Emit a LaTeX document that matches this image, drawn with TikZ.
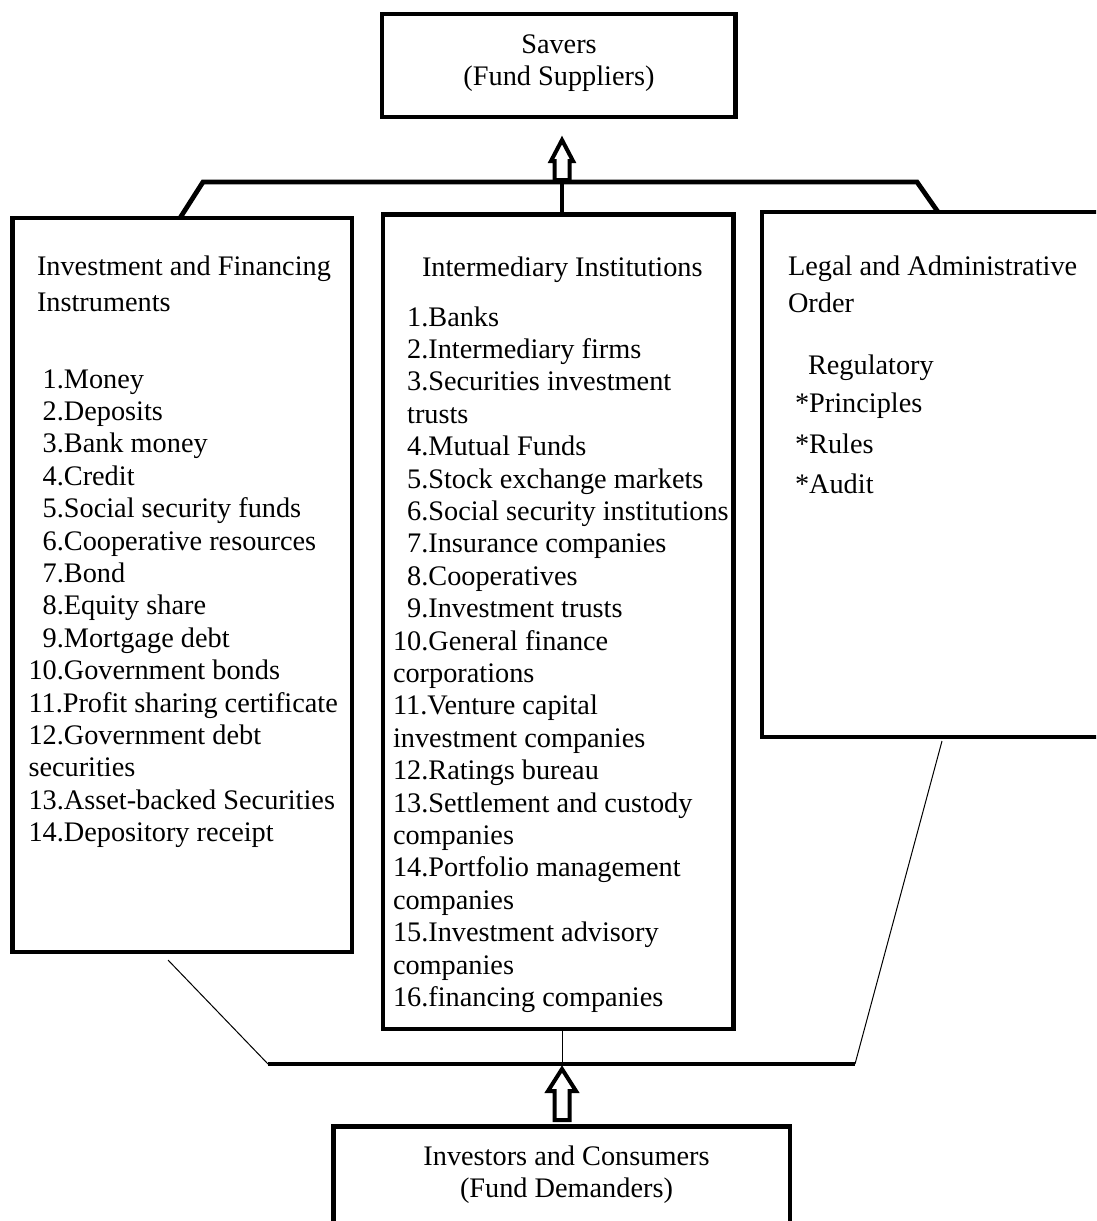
\documentclass[tikz,border=0pt]{standalone}
\usepackage{fontspec}
\setmainfont{Liberation Serif}[Ligatures=NoCommon]
\newcommand\diafont{\fontsize{28.3}{32.4}\selectfont}
\begin{document}
\begin{tikzpicture}[x=1pt,y=-1pt,
  box/.style={draw,line width=4.5pt,inner sep=0pt,outer sep=0pt},
  txt/.style={anchor=base west,inner sep=0pt,outer sep=0pt,font=\diafont},
  ctxt/.style={anchor=base,inner sep=0pt,outer sep=0pt,font=\diafont},
  heavy/.style={line width=4.8pt},
  light/.style={line width=1pt},
  hollow/.style={draw,line width=4pt,fill=white,line join=miter}]
\useasboundingbox (0,0) rectangle (1096,1221);
\clip (0,0) rectangle (1096,1221);

% boxes
\node[box,minimum width=353.5pt,minimum height=103pt] (sbox) at (558.75,65.5) {};
\node[box,minimum width=339.5pt,minimum height=734pt] (lbox) at (182.25,585) {};
\node[box,minimum width=350.5pt,minimum height=814.5pt] (mbox) at (558.25,621.75) {};
\node[box,minimum width=348pt,minimum height=525pt] (rbox) at (936,474.5) {};
\node[box,minimum width=456.5pt,minimum height=113.5pt] (bbox) at (561.75,1183.25) {};

% savers text
\node[ctxt] (stext) at (559,53) {\parbox[t]{340pt}{\centering Savers\\(Fund Suppliers)}};
% investors text
\node[ctxt] (btext) at (566.5,1165) {\parbox[t]{440pt}{\centering Investors and Consumers\\(Fund Demanders)}};

% left box
\node[txt] (ltitle1) at (37,275) {Investment and Financing};
\node[txt] (ltitle2) at (37,311.7) {Instruments};
\node[txt] (llist) at (28.5,388) {\parbox[t]{330pt}{\raggedright
\phantom{0}1.Money\\
\phantom{0}2.Deposits\\
\phantom{0}3.Bank money\\
\phantom{0}4.Credit\\
\phantom{0}5.Social security funds\\
\phantom{0}6.Cooperative resources\\
\phantom{0}7.Bond\\
\phantom{0}8.Equity share\\
\phantom{0}9.Mortgage debt\\
10.Government bonds\\
11.Profit sharing certificate\\
12.Government debt\\
securities\\
13.Asset-backed Securities\\
14.Depository receipt}};

% middle box
\node[txt] (mtitle) at (422,276) {Intermediary Institutions};
\node[txt] (mlist) at (393,326) {\parbox[t]{345pt}{\raggedright
\phantom{0}1.Banks\\
\phantom{0}2.Intermediary firms\\
\phantom{0}3.Securities investment\\
\phantom{0}trusts\\
\phantom{0}4.Mutual Funds\\
\phantom{0}5.Stock exchange markets\\
\phantom{0}6.Social security institutions\\
\phantom{0}7.Insurance companies\\
\phantom{0}8.Cooperatives\\
\phantom{0}9.Investment trusts\\
10.General finance\\
corporations\\
11.Venture capital\\
investment companies\\
12.Ratings bureau\\
13.Settlement and custody\\
companies\\
14.Portfolio management\\
companies\\
15.Investment advisory\\
companies\\
16.financing companies}};

% right box
\node[txt] (rtitle1) at (788,275) {Legal and Administrative};
\node[txt] (rtitle2) at (788,312) {Order};
\node[txt] (rreg) at (808,374) {Regulatory};
\node[txt] (rprin) at (795,412) {*Principles};
\node[txt] (rrules) at (795,453) {*Rules};
\node[txt] (raudit) at (795,493) {*Audit};

% top connector
\coordinate (tl) at (203,182);
\coordinate (tr) at (917,182);
\draw[heavy] (180,0 |- lbox.north) -- (tl) -- (tr) -- (938,0 |- rbox.north);
\draw[line width=4.5pt] (562,0 |- tl) -- (562,0 |- mbox.north);
\draw[hollow] (554.5,180) -- (554.5,161) -- (551,161) -- (562,140) -- (573,161) -- (569.5,161) -- (569.5,180) -- cycle;

% bottom connector
\coordinate (lfoot) at (168,960);
\coordinate (rfoot) at (942,741);
\coordinate (bl) at (268,1064);
\coordinate (br) at (855,1064);
\draw[light] (lfoot) -- (bl);
\draw[light] (br) -- (rfoot);
\draw[light] (562,0 |- mbox.south) -- (562,0 |- bl);
\draw[heavy] (bl) -- (br);
\draw[hollow] (554.5,1120) -- (554.5,1091) -- (548,1091) -- (562,1069) -- (576,1091) -- (569.5,1091) -- (569.5,1120) -- cycle;
\end{tikzpicture}
\end{document}
